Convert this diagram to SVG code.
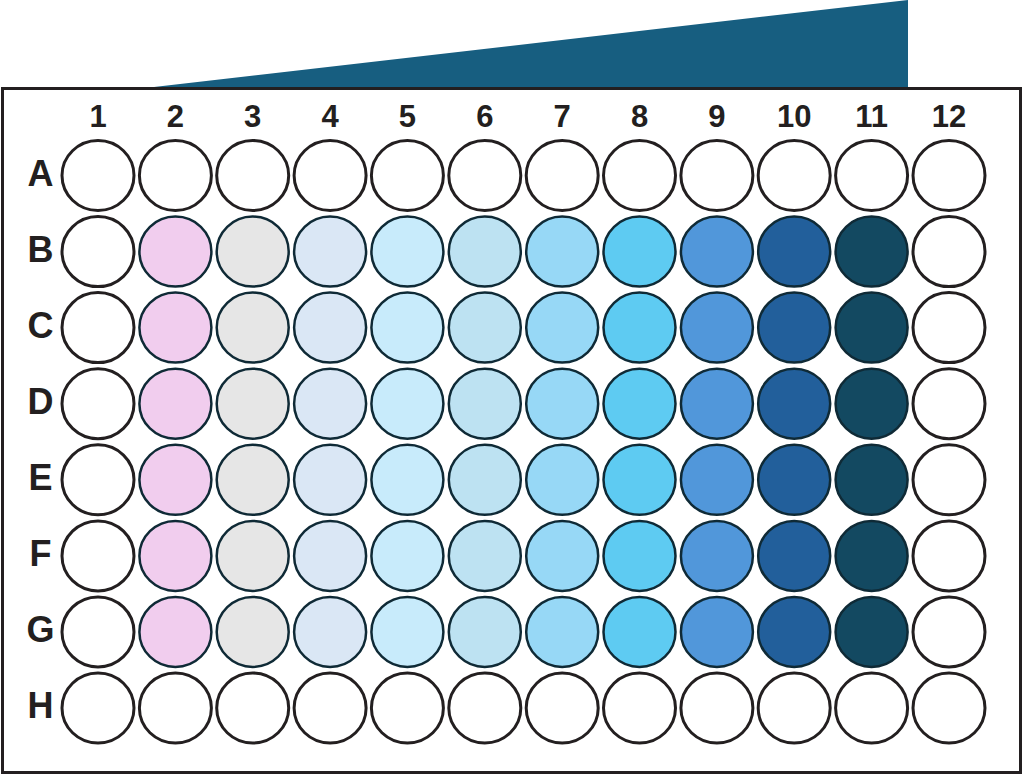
<svg xmlns="http://www.w3.org/2000/svg" width="1023" height="776" viewBox="0 0 1023 776">
<style>
.w{stroke:#231f20;stroke-width:3;fill:#fff}
.c{stroke:#0f2a36;stroke-width:2.5}
.lbl{font-family:"Liberation Sans",Arial,sans-serif;font-weight:bold;fill:#231f20;text-anchor:middle}
.num{font-size:31px}
.let{font-size:36px}
.c2{fill:#f1cdee}.c3{fill:#e6e6e6}.c4{fill:#dae7f5}.c5{fill:#c8ebfb}.c6{fill:#bde2f2}
.c7{fill:#97d8f6}.c8{fill:#5ecbf2}.c9{fill:#5197da}.c10{fill:#225f9b}.c11{fill:#134961}
</style>
<rect width="1023" height="776" fill="#fff"/>
<polygon id="gradient" points="128,90 908,0 908,90" fill="#175e80"/>
<rect id="plate" x="2.5" y="88.5" width="1018" height="684" fill="#fff" stroke="#231f20" stroke-width="3"/>
<g id="col-labels" class="lbl num">
<text x="98" y="127">1</text><text x="175.4" y="127">2</text><text x="252.7" y="127">3</text><text x="330.1" y="127">4</text><text x="407.4" y="127">5</text><text x="484.8" y="127">6</text><text x="562.2" y="127">7</text><text x="639.5" y="127">8</text><text x="716.9" y="127">9</text><text x="794.2" y="127">10</text><text x="871.6" y="127">11</text><text x="949" y="127">12</text>
</g>
<g id="row-labels" class="lbl let">
<text x="40.5" y="186">A</text><text x="40.5" y="262">B</text><text x="40.5" y="338">C</text><text x="40.5" y="414">D</text><text x="40.5" y="490">E</text><text x="40.5" y="566">F</text><text x="40.5" y="642">G</text><text x="40.5" y="718">H</text>
</g>
<g id="connectors"></g>
<g id="wells">
<g id="row-A">
<ellipse id="A1" class="w" cx="98" cy="175.5" rx="36" ry="35"/><ellipse id="A2" class="w" cx="175.4" cy="175.5" rx="36" ry="35"/><ellipse id="A3" class="w" cx="252.7" cy="175.5" rx="36" ry="35"/><ellipse id="A4" class="w" cx="330.1" cy="175.5" rx="36" ry="35"/><ellipse id="A5" class="w" cx="407.4" cy="175.5" rx="36" ry="35"/><ellipse id="A6" class="w" cx="484.8" cy="175.5" rx="36" ry="35"/><ellipse id="A7" class="w" cx="562.2" cy="175.5" rx="36" ry="35"/><ellipse id="A8" class="w" cx="639.5" cy="175.5" rx="36" ry="35"/><ellipse id="A9" class="w" cx="716.9" cy="175.5" rx="36" ry="35"/><ellipse id="A10" class="w" cx="794.2" cy="175.5" rx="36" ry="35"/><ellipse id="A11" class="w" cx="871.6" cy="175.5" rx="36" ry="35"/><ellipse id="A12" class="w" cx="949" cy="175.5" rx="36" ry="35"/>
</g>
<g id="row-B">
<ellipse id="B1" class="w" cx="98" cy="251.6" rx="36" ry="35"/><ellipse id="B2" class="c c2" cx="175.4" cy="251.6" rx="36" ry="35"/><ellipse id="B3" class="c c3" cx="252.7" cy="251.6" rx="36" ry="35"/><ellipse id="B4" class="c c4" cx="330.1" cy="251.6" rx="36" ry="35"/><ellipse id="B5" class="c c5" cx="407.4" cy="251.6" rx="36" ry="35"/><ellipse id="B6" class="c c6" cx="484.8" cy="251.6" rx="36" ry="35"/><ellipse id="B7" class="c c7" cx="562.2" cy="251.6" rx="36" ry="35"/><ellipse id="B8" class="c c8" cx="639.5" cy="251.6" rx="36" ry="35"/><ellipse id="B9" class="c c9" cx="716.9" cy="251.6" rx="36" ry="35"/><ellipse id="B10" class="c c10" cx="794.2" cy="251.6" rx="36" ry="35"/><ellipse id="B11" class="c c11" cx="871.6" cy="251.6" rx="36" ry="35"/><ellipse id="B12" class="w" cx="949" cy="251.6" rx="36" ry="35"/>
</g>
<g id="row-C">
<ellipse id="C1" class="w" cx="98" cy="327.6" rx="36" ry="35"/><ellipse id="C2" class="c c2" cx="175.4" cy="327.6" rx="36" ry="35"/><ellipse id="C3" class="c c3" cx="252.7" cy="327.6" rx="36" ry="35"/><ellipse id="C4" class="c c4" cx="330.1" cy="327.6" rx="36" ry="35"/><ellipse id="C5" class="c c5" cx="407.4" cy="327.6" rx="36" ry="35"/><ellipse id="C6" class="c c6" cx="484.8" cy="327.6" rx="36" ry="35"/><ellipse id="C7" class="c c7" cx="562.2" cy="327.6" rx="36" ry="35"/><ellipse id="C8" class="c c8" cx="639.5" cy="327.6" rx="36" ry="35"/><ellipse id="C9" class="c c9" cx="716.9" cy="327.6" rx="36" ry="35"/><ellipse id="C10" class="c c10" cx="794.2" cy="327.6" rx="36" ry="35"/><ellipse id="C11" class="c c11" cx="871.6" cy="327.6" rx="36" ry="35"/><ellipse id="C12" class="w" cx="949" cy="327.6" rx="36" ry="35"/>
</g>
<g id="row-D">
<ellipse id="D1" class="w" cx="98" cy="403.7" rx="36" ry="35"/><ellipse id="D2" class="c c2" cx="175.4" cy="403.7" rx="36" ry="35"/><ellipse id="D3" class="c c3" cx="252.7" cy="403.7" rx="36" ry="35"/><ellipse id="D4" class="c c4" cx="330.1" cy="403.7" rx="36" ry="35"/><ellipse id="D5" class="c c5" cx="407.4" cy="403.7" rx="36" ry="35"/><ellipse id="D6" class="c c6" cx="484.8" cy="403.7" rx="36" ry="35"/><ellipse id="D7" class="c c7" cx="562.2" cy="403.7" rx="36" ry="35"/><ellipse id="D8" class="c c8" cx="639.5" cy="403.7" rx="36" ry="35"/><ellipse id="D9" class="c c9" cx="716.9" cy="403.7" rx="36" ry="35"/><ellipse id="D10" class="c c10" cx="794.2" cy="403.7" rx="36" ry="35"/><ellipse id="D11" class="c c11" cx="871.6" cy="403.7" rx="36" ry="35"/><ellipse id="D12" class="w" cx="949" cy="403.7" rx="36" ry="35"/>
</g>
<g id="row-E">
<ellipse id="E1" class="w" cx="98" cy="479.8" rx="36" ry="35"/><ellipse id="E2" class="c c2" cx="175.4" cy="479.8" rx="36" ry="35"/><ellipse id="E3" class="c c3" cx="252.7" cy="479.8" rx="36" ry="35"/><ellipse id="E4" class="c c4" cx="330.1" cy="479.8" rx="36" ry="35"/><ellipse id="E5" class="c c5" cx="407.4" cy="479.8" rx="36" ry="35"/><ellipse id="E6" class="c c6" cx="484.8" cy="479.8" rx="36" ry="35"/><ellipse id="E7" class="c c7" cx="562.2" cy="479.8" rx="36" ry="35"/><ellipse id="E8" class="c c8" cx="639.5" cy="479.8" rx="36" ry="35"/><ellipse id="E9" class="c c9" cx="716.9" cy="479.8" rx="36" ry="35"/><ellipse id="E10" class="c c10" cx="794.2" cy="479.8" rx="36" ry="35"/><ellipse id="E11" class="c c11" cx="871.6" cy="479.8" rx="36" ry="35"/><ellipse id="E12" class="w" cx="949" cy="479.8" rx="36" ry="35"/>
</g>
<g id="row-F">
<ellipse id="F1" class="w" cx="98" cy="555.9" rx="36" ry="35"/><ellipse id="F2" class="c c2" cx="175.4" cy="555.9" rx="36" ry="35"/><ellipse id="F3" class="c c3" cx="252.7" cy="555.9" rx="36" ry="35"/><ellipse id="F4" class="c c4" cx="330.1" cy="555.9" rx="36" ry="35"/><ellipse id="F5" class="c c5" cx="407.4" cy="555.9" rx="36" ry="35"/><ellipse id="F6" class="c c6" cx="484.8" cy="555.9" rx="36" ry="35"/><ellipse id="F7" class="c c7" cx="562.2" cy="555.9" rx="36" ry="35"/><ellipse id="F8" class="c c8" cx="639.5" cy="555.9" rx="36" ry="35"/><ellipse id="F9" class="c c9" cx="716.9" cy="555.9" rx="36" ry="35"/><ellipse id="F10" class="c c10" cx="794.2" cy="555.9" rx="36" ry="35"/><ellipse id="F11" class="c c11" cx="871.6" cy="555.9" rx="36" ry="35"/><ellipse id="F12" class="w" cx="949" cy="555.9" rx="36" ry="35"/>
</g>
<g id="row-G">
<ellipse id="G1" class="w" cx="98" cy="631.9" rx="36" ry="35"/><ellipse id="G2" class="c c2" cx="175.4" cy="631.9" rx="36" ry="35"/><ellipse id="G3" class="c c3" cx="252.7" cy="631.9" rx="36" ry="35"/><ellipse id="G4" class="c c4" cx="330.1" cy="631.9" rx="36" ry="35"/><ellipse id="G5" class="c c5" cx="407.4" cy="631.9" rx="36" ry="35"/><ellipse id="G6" class="c c6" cx="484.8" cy="631.9" rx="36" ry="35"/><ellipse id="G7" class="c c7" cx="562.2" cy="631.9" rx="36" ry="35"/><ellipse id="G8" class="c c8" cx="639.5" cy="631.9" rx="36" ry="35"/><ellipse id="G9" class="c c9" cx="716.9" cy="631.9" rx="36" ry="35"/><ellipse id="G10" class="c c10" cx="794.2" cy="631.9" rx="36" ry="35"/><ellipse id="G11" class="c c11" cx="871.6" cy="631.9" rx="36" ry="35"/><ellipse id="G12" class="w" cx="949" cy="631.9" rx="36" ry="35"/>
</g>
<g id="row-H">
<ellipse id="H1" class="w" cx="98" cy="708" rx="36" ry="35"/><ellipse id="H2" class="w" cx="175.4" cy="708" rx="36" ry="35"/><ellipse id="H3" class="w" cx="252.7" cy="708" rx="36" ry="35"/><ellipse id="H4" class="w" cx="330.1" cy="708" rx="36" ry="35"/><ellipse id="H5" class="w" cx="407.4" cy="708" rx="36" ry="35"/><ellipse id="H6" class="w" cx="484.8" cy="708" rx="36" ry="35"/><ellipse id="H7" class="w" cx="562.2" cy="708" rx="36" ry="35"/><ellipse id="H8" class="w" cx="639.5" cy="708" rx="36" ry="35"/><ellipse id="H9" class="w" cx="716.9" cy="708" rx="36" ry="35"/><ellipse id="H10" class="w" cx="794.2" cy="708" rx="36" ry="35"/><ellipse id="H11" class="w" cx="871.6" cy="708" rx="36" ry="35"/><ellipse id="H12" class="w" cx="949" cy="708" rx="36" ry="35"/>
</g>
</g>
</svg>
